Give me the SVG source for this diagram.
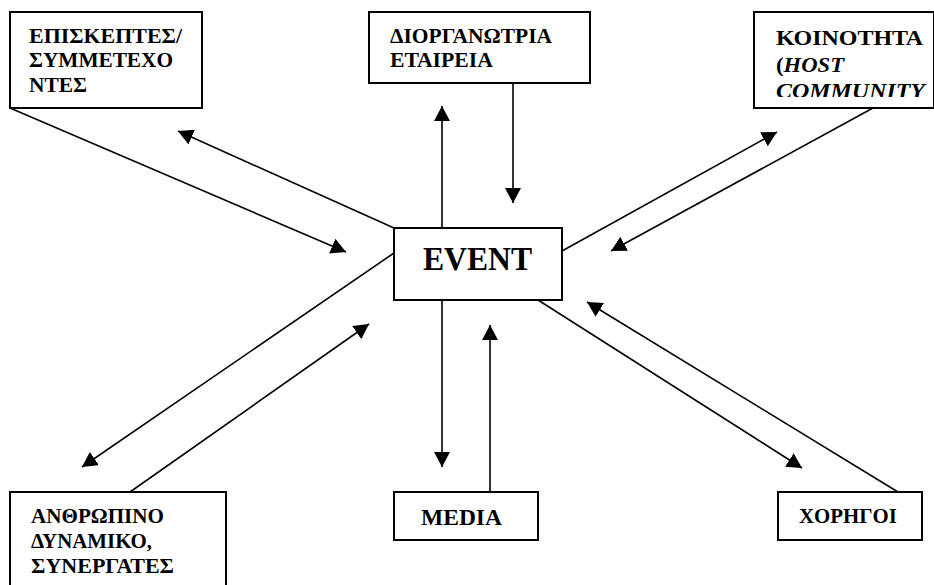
<svg xmlns="http://www.w3.org/2000/svg" width="934" height="585" viewBox="0 0 934 585">
<style>
.box{fill:#fff;stroke:#000;stroke-width:2}
.t{font-family:"Liberation Serif","Times New Roman",serif;font-weight:bold;font-size:21px;fill:#000}
.c line{stroke:#000;stroke-width:1.6}
.a{marker-end:url(#ah)}
</style>
<defs>
<marker id="ah" markerUnits="userSpaceOnUse" markerWidth="16" markerHeight="16" refX="15" refY="8" orient="auto" viewBox="0 0 16 16">
<path d="M0,0 L15,8 L0,16 Z" fill="#000"/>
</marker>
<clipPath id="clip3"><rect x="755" y="13" width="179" height="84"/></clipPath>
</defs>
<rect width="934" height="585" fill="#fff"/>
<g class="c" id="connectors">
<line x1="10" y1="108" x2="346" y2="252" class="a"/>
<line x1="394" y1="228" x2="178" y2="131" class="a"/>
<line x1="442" y1="228" x2="442" y2="106" class="a"/>
<line x1="513" y1="83" x2="513" y2="203" class="a"/>
<line x1="562" y1="251" x2="777" y2="132" class="a"/>
<line x1="873" y1="108" x2="611" y2="251" class="a"/>
<line x1="394" y1="253" x2="82" y2="467" class="a"/>
<line x1="130" y1="492" x2="369" y2="324" class="a"/>
<line x1="442" y1="300" x2="442" y2="467" class="a"/>
<line x1="490" y1="492" x2="490" y2="325" class="a"/>
<line x1="538" y1="300" x2="802" y2="468" class="a"/>
<line x1="898" y1="492" x2="587" y2="302" class="a"/>
</g>
<g id="visitors">
<rect class="box" x="10" y="12" width="192" height="96"/>
<text class="t" x="29" y="43" textLength="153" lengthAdjust="spacingAndGlyphs">ΕΠΙΣΚΕΠΤΕΣ/</text>
<text class="t" x="29" y="67" textLength="144" lengthAdjust="spacingAndGlyphs">ΣΥΜΜΕΤΕΧΟ</text>
<text class="t" x="29" y="92" textLength="58" lengthAdjust="spacingAndGlyphs">ΝΤΕΣ</text>
</g>
<g id="organizer">
<rect class="box" x="369" y="12" width="221" height="71"/>
<text class="t" x="390" y="43" textLength="162" lengthAdjust="spacingAndGlyphs">ΔΙΟΡΓΑΝΩΤΡΙΑ</text>
<text class="t" x="390" y="67" textLength="103" lengthAdjust="spacingAndGlyphs">ΕΤΑΙΡΕΙΑ</text>
</g>
<g id="community">
<rect class="box" x="754" y="12" width="180" height="96"/>
<g clip-path="url(#clip3)">
<text class="t" x="776" y="45" textLength="147" lengthAdjust="spacingAndGlyphs">ΚΟΙΝΟΤΗΤΑ</text>
<text class="t" x="776" y="72" textLength="68" lengthAdjust="spacingAndGlyphs">(<tspan font-style="italic">HOST</tspan></text>
<text class="t" x="776" y="98" style="font-style:italic" textLength="149" lengthAdjust="spacingAndGlyphs">COMMUNITY</text>
</g>
</g>
<g id="event">
<rect class="box" x="394" y="228" width="168" height="72"/>
<text class="t" x="423" y="270" style="font-size:33px" textLength="109" lengthAdjust="spacingAndGlyphs">EVENT</text>
</g>
<g id="staff">
<rect class="box" x="10" y="492" width="216" height="100"/>
<text class="t" x="31" y="523" textLength="133" lengthAdjust="spacingAndGlyphs">ΑΝΘΡΩΠΙΝΟ</text>
<text class="t" x="31" y="548" textLength="121" lengthAdjust="spacingAndGlyphs">ΔΥΝΑΜΙΚΟ,</text>
<text class="t" x="31" y="573" textLength="143" lengthAdjust="spacingAndGlyphs">ΣΥΝΕΡΓΑΤΕΣ</text>
</g>
<g id="media">
<rect class="box" x="394" y="492" width="144" height="48"/>
<text class="t" x="421" y="525" style="font-size:24px" textLength="81" lengthAdjust="spacingAndGlyphs">MEDIA</text>
</g>
<g id="sponsors">
<rect class="box" x="778" y="492" width="144" height="48"/>
<text class="t" x="799" y="523" textLength="98" lengthAdjust="spacingAndGlyphs">ΧΟΡΗΓΟΙ</text>
</g>
</svg>
